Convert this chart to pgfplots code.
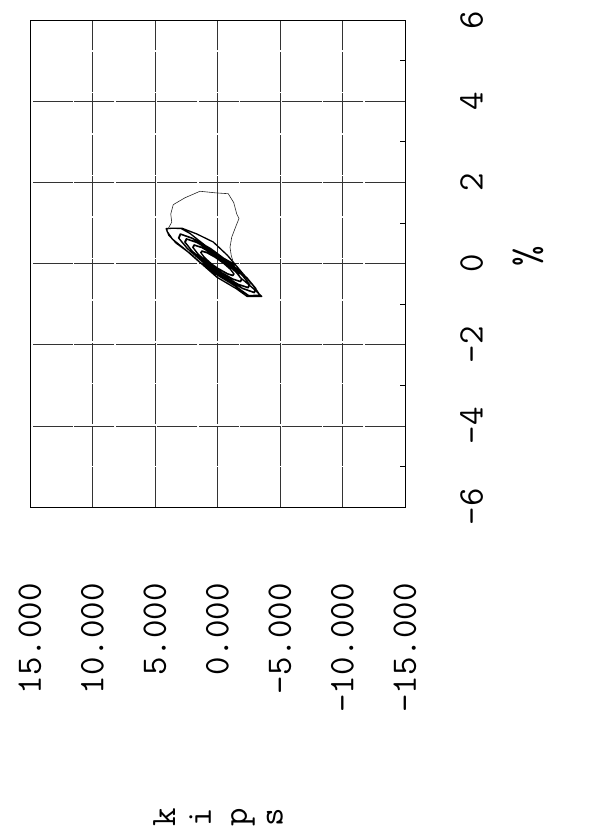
\documentclass[border=0pt]{standalone}
\usepackage{pgfplots}
\pgfplotsset{compat=1.18}
\usepackage{fontspec}

% plotter-style lettering: spaced-out typewriter face
\newcommand{\plotfont}[1]{\ttfamily\fontsize{#1}{#1}\selectfont\addfontfeatures{LetterSpace=7}}

% Load history: kips against drift (%), cyclic loops of growing amplitude
\pgfplotstableread{
kips pct
0.50 0.00
1.05 0.15
1.32 0.26
1.23 0.30
0.82 0.26
0.18 0.15
-0.50 0.00
-1.05 -0.15
-1.32 -0.26
-1.23 -0.30
-0.82 -0.26
-0.18 -0.15
0.52 0.00
1.07 0.16
1.34 0.27
1.25 0.31
0.80 0.27
0.16 0.16
-0.48 0.01
-1.02 -0.14
-1.30 -0.25
-1.21 -0.29
-0.80 -0.25
-0.16 -0.14
0.70 0.00
1.53 0.225
1.95 0.39
1.85 0.45
1.25 0.39
0.32 0.225
-0.70 0.00
-1.53 -0.225
-1.95 -0.39
-1.85 -0.45
-1.25 -0.39
-0.32 -0.225
0.72 0.01
1.55 0.23
1.98 0.40
1.88 0.46
1.27 0.40
0.30 0.23
-0.68 0.01
-1.50 -0.22
-1.92 -0.38
-1.82 -0.44
-1.22 -0.38
-0.30 -0.22
0.90 0.00
2.01 0.30
2.58 0.52
2.46 0.60
1.68 0.52
0.45 0.30
-0.90 0.00
-2.01 -0.30
-2.58 -0.52
-2.46 -0.60
-1.68 -0.52
-0.45 -0.30
0.92 0.01
2.04 0.31
2.62 0.53
2.50 0.61
1.70 0.53
0.43 0.31
-0.88 0.01
-1.98 -0.29
-2.55 -0.51
-2.43 -0.59
-1.65 -0.51
-0.43 -0.29
1.05 0.00
2.38 0.36
3.08 0.62
2.95 0.72
2.03 0.62
0.57 0.36
-1.05 0.00
-2.38 -0.36
-3.08 -0.62
-2.95 -0.72
-2.03 -0.62
-0.57 -0.36
1.08 0.01
2.42 0.37
3.12 0.63
2.98 0.73
2.05 0.63
0.55 0.37
-1.02 0.01
-2.35 -0.35
-3.05 -0.61
-2.92 -0.71
-2.00 -0.61
-0.55 -0.35
1.30 0.00
2.20 0.25
3.30 0.50
3.90 0.70
4.11 0.86
3.50 0.87
2.90 0.86
2.20 0.74
1.00 0.45
-0.10 0.20
-1.24 0.00
-1.80 -0.34
-2.80 -0.60
-3.54 -0.81
-2.36 -0.81
-1.50 -0.62
0.04 -0.34
1.30 0.00
2.20 0.25
3.30 0.50
3.90 0.70
4.11 0.86
3.50 0.87
2.85 0.87
1.67 0.73
0.34 0.53
-0.80 0.20
-1.90 -0.20
-3.00 -0.60
-3.40 -0.78
-2.50 -0.79
-1.40 -0.55
0.20 -0.25
1.50 0.05
2.60 0.35
3.60 0.60
4.05 0.80
}\cyclic

% final excursion beyond the cyclic range
\pgfplotstableread{
kips pct
4.05 0.80
3.66 1.02
3.74 1.22
3.54 1.45
2.60 1.62
1.40 1.78
0.12 1.74
-0.86 1.72
-1.30 1.50
-1.54 1.22
-1.72 1.11
-1.45 0.90
-1.14 0.65
-1.00 0.40
-1.10 0.20
-1.26 0.03
}\excursion

\begin{document}
\begin{tikzpicture}
\path[use as bounding box] (0bp,0bp) rectangle (589bp,-836bp);
\begin{axis}[
  at={(30bp,-20bp)}, anchor=north west,
  width=375bp, height=487bp, scale only axis,
  xmin=-15, xmax=15, x dir=reverse,
  ymin=-6, ymax=6,
  xtick={-15,-10,-5,0,5,10,15},
  xticklabels={-15.000,-10.000,-5.000,0.000,5.000,10.000,15.000},
  ytick={-6,-4,-2,0,2,4,6},
  yticklabels={-6,-4,-2,0,2,4,6},
  minor ytick={-5,-3,-1,1,3,5},
  xtick pos=left, ytick pos=right, yticklabel pos=right,
  major tick length=0pt, minor tick length=5bp,
  tick align=inside,
  minor tick style={black, line width=0.6bp},
  grid=major,
  major grid style={black!80, line width=0.6bp, dash pattern=on 40bp off 1.5bp},
  axis line style={black, line width=0.7bp},
  tick label style={font=\plotfont{36}, inner sep=0pt},
  xticklabel style={rotate=90, anchor=east},
  xticklabel shift=76bp,
  yticklabel style={rotate=90, anchor=north},
  yticklabel shift=55bp,
]
\addplot[black, line width=1.3bp, line join=round] table[x=kips, y=pct] {\cyclic};
\addplot[black!85, line width=0.6bp, line join=round] table[x=kips, y=pct] {\excursion};
\end{axis}
\node[rotate=90, font=\plotfont{40}, inner sep=0pt] at (528bp,-256bp) {\%};
\node[rotate=90, font=\plotfont{36}, inner sep=0pt, align=center] at (218bp,-817bp) {k\\i\\p\\s};
\end{tikzpicture}
\end{document}
